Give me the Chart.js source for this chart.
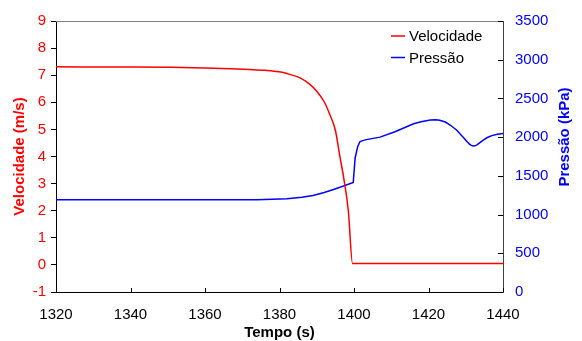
<!DOCTYPE html>
<html><head><meta charset="utf-8">
<script src="https://cdn.jsdelivr.net/npm/chart.js@4/dist/chart.umd.min.js"></script>
<style>html,body{margin:0;padding:0;background:#fff}#wrap{width:582px;height:341px}</style>
</head><body><div id="wrap"><canvas id="c" width="582" height="341"></canvas></div>
<script>
const velTime  = [1320,1340,1350,1360,1367,1372,1376,1379,1381,1383,1385.5,1388,1390,1392,1393.5,1395,1396.2,1397.3,1398.5,1399.6,1400,1420,1440];
const velValue = [7.31,7.30,7.29,7.27,7.24,7.21,7.18,7.14,7.10,7.02,6.90,6.68,6.41,6.02,5.55,4.97,4.01,3.16,1.96,0.05,0.05,0.05,0.05];
const pressTime  = [1320,1350,1374,1382,1386,1389,1392,1394.5,1397,1399.8,1400.3,1401,1401.6,1403,1407,1411,1416,1418,1420.5,1422,1423,1424.5,1425.2,1426,1427.6,1428.5,1429.5,1430.3,1431,1431.5,1432,1432.5,1433,1433.8,1434.7,1435.8,1437,1438.5,1440];
const pressValue = [1192,1192,1192,1205,1225,1247,1285,1323,1365,1415,1731,1880,1942,1965,2000,2070,2173,2200,2220,2224,2218,2195,2175,2150,2089,2040,1990,1945,1910,1893,1886,1888,1900,1930,1962,1995,2020,2037,2047];
const xTicks = [1320,1340,1360,1380,1400,1420,1440];
const seriesLabels = ['Velocidade','Pressão'];
const axisTitles = {x:'Tempo (s)', left:'Velocidade (m/s)', right:'Pressão (kPa)'};

const FONT = 'Liberation Sans, Arial, sans-serif';
const plain = v => String(v);
const extras = {
  id:'extras',
  afterDraw(chart){
    const ctx = chart.ctx, a = chart.chartArea;
    ctx.save();
    ctx.strokeStyle = '#808080'; ctx.lineWidth = 1;
    ctx.beginPath(); ctx.moveTo(a.left, a.top+0.5); ctx.lineTo(a.right, a.top+0.5); ctx.stroke();
    ctx.strokeStyle = '#000';
    const xs = chart.scales.x;
    xs.ticks.forEach(t=>{const px=Math.round(xs.getPixelForValue(t.value))+0.5; ctx.beginPath(); ctx.moveTo(px,a.bottom); ctx.lineTo(px,a.bottom-4); ctx.stroke();});
    const yp = chart.scales.yP;
    yp.ticks.forEach(t=>{const py=Math.round(yp.getPixelForValue(t.value))+0.5; ctx.beginPath(); ctx.moveTo(a.right,py); ctx.lineTo(a.right-5,py); ctx.stroke();});
    ctx.fillStyle = '#0000ff'; ctx.font = 'bold 15px ' + FONT;
    ctx.textAlign = 'center'; ctx.textBaseline = 'middle';
    ctx.translate(565, 137); ctx.rotate(-Math.PI/2); ctx.fillText(axisTitles.right, 0, 0);
    ctx.restore();
    ctx.save();
    ctx.font = '15px ' + FONT; ctx.textBaseline = 'middle'; ctx.textAlign = 'left';
    chart.data.datasets.forEach((ds,i)=>{
      const y = 36 + i*21.5;
      ctx.strokeStyle = ds.borderColor; ctx.lineWidth = 1.5;
      ctx.beginPath(); ctx.moveTo(391,y); ctx.lineTo(405,y); ctx.stroke();
      ctx.fillStyle = '#000'; ctx.fillText(ds.label, 409, y+1);
    });
    ctx.restore();
  }
};

new Chart(document.getElementById('c'), {
  type:'line',
  data:{datasets:[
    {label:seriesLabels[0], data:velTime.map((t,i)=>({x:t,y:velValue[i]})), borderColor:'#ff0000', borderWidth:1.5, pointRadius:0, cubicInterpolationMode:'monotone', yAxisID:'yV'},
    {label:seriesLabels[1], data:pressTime.map((t,i)=>({x:t,y:pressValue[i]})), borderColor:'#0000ff', borderWidth:1.5, pointRadius:0, tension:0, yAxisID:'yP'}
  ]},
  options:{
    responsive:false, animation:false,
    layout:{padding:{left:0,right:0,top:15,bottom:0}},
    plugins:{legend:{display:false}, tooltip:{enabled:false}},
    scales:{
      x:{type:'linear', min:1320, max:1440, afterBuildTicks:s=>{s.ticks=xTicks.map(v=>({value:v}));},
        ticks:{color:'#000', font:{family:FONT,size:15}, padding:14, maxRotation:0, callback:plain},
        grid:{display:true, drawOnChartArea:false, drawTicks:false},
        border:{display:true, color:'#000', width:1},
        title:{display:true, text:axisTitles.x, color:'#000', font:{family:FONT,size:15,weight:'bold',lineHeight:1}, padding:{top:0,bottom:0.5}},
        afterFit:s=>{s.height=49;}},
      yV:{type:'linear', position:'left', min:-1, max:9,
        ticks:{stepSize:1, color:'#ff0000', font:{family:FONT,size:15}, padding:5, callback:plain},
        grid:{display:true, drawOnChartArea:false, drawTicks:true, tickLength:5, color:'#000'},
        border:{display:true, color:'#000', width:1},
        title:{display:true, text:axisTitles.left, color:'#ff0000', font:{family:FONT,size:15,weight:'bold'}, padding:{top:11,bottom:0}},
        afterFit:s=>{s.width=56;}},
      yP:{type:'linear', position:'right', min:0, max:3500,
        ticks:{stepSize:500, color:'#0000ff', font:{family:FONT,size:15}, padding:12, callback:plain},
        grid:{display:true, drawOnChartArea:false, drawTicks:false},
        border:{display:true, color:'#404040', width:1},
        afterFit:s=>{s.width=79;}}
    }
  },
  plugins:[extras]
});
</script></body></html>
